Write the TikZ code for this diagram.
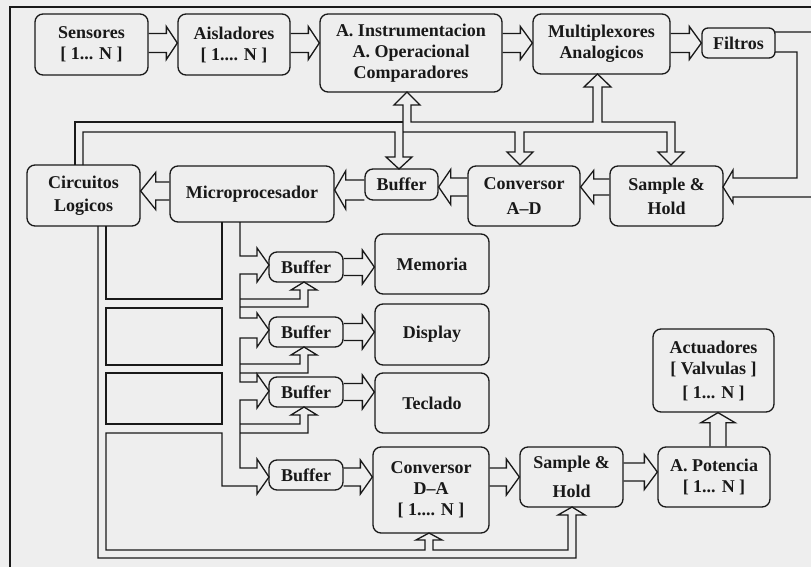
\documentclass[tikz,border=0pt]{standalone}
\usepackage{fontspec}
\setmainfont{Liberation Serif}
\usetikzlibrary{calc}
\definecolor{bg}{RGB}{238,238,238}
\definecolor{ink}{RGB}{25,25,25}
\tikzset{
 ln/.style={draw=ink, line width=1.3pt, line join=miter},
 box/.style={ln, rounded corners=8pt, inner sep=0pt, align=center,
   font=\fontsize{18}{21}\selectfont\bfseries, text=ink},
 wh/.style 2 args={minimum width=#1pt, minimum height=#2pt},
}
% hollow arrows: #1 start point, #2 tip point, #3 half shaft, #4 half head, #5 head length
\newcommand\hArrR[5]{\draw[ln] let \p1=#1,\p2=#2 in (\x1,\y2+#3pt) -- (\x2-#5pt,\y2+#3pt) -- (\x2-#5pt,\y2+#4pt) -- (\x2,\y2) -- (\x2-#5pt,\y2-#4pt) -- (\x2-#5pt,\y2-#3pt) -- (\x1,\y2-#3pt);}
\newcommand\hArrL[5]{\draw[ln] let \p1=#1,\p2=#2 in (\x1,\y2+#3pt) -- (\x2+#5pt,\y2+#3pt) -- (\x2+#5pt,\y2+#4pt) -- (\x2,\y2) -- (\x2+#5pt,\y2-#4pt) -- (\x2+#5pt,\y2-#3pt) -- (\x1,\y2-#3pt);}
\newcommand\hArrU[5]{\draw[ln] let \p1=#1,\p2=#2 in (\x2-#3pt,\y1) -- (\x2-#3pt,\y2-#5pt) -- (\x2-#4pt,\y2-#5pt) -- (\x2,\y2) -- (\x2+#4pt,\y2-#5pt) -- (\x2+#3pt,\y2-#5pt) -- (\x2+#3pt,\y1);}
\begin{document}
\begin{tikzpicture}[x=1pt,y=-1pt]
\useasboundingbox (0,0) rectangle (811,567);
\clip (0,0) rectangle (811,567);
\fill[bg] (0,0) rectangle (811,567);
\draw[ln] (10,580) -- (10,7) -- (820,7);

% row helper coordinates
\coordinate (rtop) at (0,43);
\coordinate (rmid1) at (0,191);
\coordinate (rmid2) at (0,190);
\coordinate (rmid3) at (0,187);
\coordinate (rlow1) at (0,477);
\coordinate (rlow2) at (0,472);
\coordinate (cact) at (718,0);

% top row
\node[box,wh={113}{61}] (sens) at (91.5,44.5) {Sensores\\{[} 1... N ]};
\node[box,wh={112}{61}] (ais) at (234,44.5) {Aisladores\\{[} 1.... N ]};
\node[box,wh={182}{78}] (ainstr) at (411,53) {A. Instrumentacion\\A. Operacional\\Comparadores};
\node[box,wh={137}{60}] (mux) at (601.5,44) {Multiplexores\\Analogicos};
\node[box,wh={73}{30},rounded corners=6pt] (filt) at (738.5,43) {Filtros};

% middle row
\node[box,wh={113}{61}] (circ) at (83.5,195.5) {Circuitos\\[2pt]Logicos};
\node[box,wh={164}{56}] (micro) at (252,194) {\raisebox{-7pt}{Microprocesador}};
\node[box,wh={73}{31}] (buf0) at (401.5,184.5) {Buffer};
\node[box,wh={112}{60}] (convad) at (524,196) {Conversor\\[4pt]A–D};
\node[box,wh={113}{60}] (sh1) at (666.5,196) {Sample \&\\[3pt]Hold};

% lower section
\node[box,wh={74}{30}] (buf1) at (306,267) {Buffer};
\node[box,wh={74}{30}] (buf2) at (306,332) {Buffer};
\node[box,wh={74}{30}] (buf3) at (306,392) {Buffer};
\node[box,wh={74}{30}] (buf4) at (306,475) {Buffer};
\node[box,wh={114}{60}] (mem) at (432,264) {\raisebox{-3pt}{Memoria}};
\node[box,wh={114}{61}] (disp) at (432,334.5) {\raisebox{-8pt}{Display}};
\node[box,wh={114}{60}] (tecl) at (432,403) {\raisebox{-3pt}{Teclado}};
\node[box,wh={116}{86}] (convda) at (431,490) {Conversor\\D–A\\{[} 1.... N ]};
\node[box,wh={103}{60}] (sh2) at (571.5,477) {Sample \&\\[8pt]Hold};
\node[box,wh={112}{60}] (apot) at (714,477) {A. Potencia\\{[} 1... N ]};
\node[box,wh={121}{83}] (act) at (713.5,370.5) {Actuadores\\{[} Valvulas ]\\[3pt]{[} 1... N ]};

% top row arrows
\hArrR{(sens.east)}{(ais.west |- rtop)}{9.5}{16.5}{11}
\hArrR{(ais.east)}{(ainstr.west |- rtop)}{9.5}{16.5}{11}
\hArrR{(ainstr.east)}{(mux.west |- rtop)}{9.5}{16.5}{12}
\hArrR{(mux.east)}{(filt.west |- rtop)}{9.5}{16.5}{12}

% middle row arrows
\hArrL{(micro.west)}{(circ.east |- rmid1)}{9}{18.5}{15}
\hArrL{(buf0.west)}{(micro.east |- rmid2)}{10}{19}{11}
\hArrL{(convad.west)}{(buf0.east |- rmid3)}{9}{17.5}{12}
\hArrL{(sh1.west)}{(convad.east |- rmid3)}{8}{16.5}{13}

% buffers to devices
\hArrR{(buf1.east)}{(mem.west |- buf1.east)}{8.5}{17}{12}
\hArrR{(buf2.east)}{(disp.west |- buf2.east)}{8.5}{17}{12}
\hArrR{(buf3.east)}{(tecl.west |- buf3.east)}{8.5}{17}{12}
\hArrR{(buf4.east)}{(convda.west |- rlow1)}{9}{17}{12}

% output chain
\hArrR{(convda.east)}{(sh2.west |- rlow1)}{9}{18}{13}
\hArrR{(sh2.east)}{(apot.west |- rlow2)}{9}{17.5}{13}
\hArrU{(apot.north -| cact)}{(act.south -| cact)}{8}{17}{10}

% filter output bus into Sample & Hold
\draw[ln] (775,32) -- (830,32) -- (830,197) -- (733,197) -- (733,203) -- (723,187)
  -- (733,170) -- (733,178) -- (797,178) -- (797,52) -- (775,52);

% upper control/data bus
\draw[ln] (75,165) -- (75,122) -- (403,122);
\draw[ln] (83,165) -- (83,132) -- (395,132) -- (395,157) -- (386,157) -- (399,169)
  -- (412,157) -- (403,157) -- (403,105) -- (394,105) -- (407,92) -- (420,105)
  -- (411,105) -- (411,122) -- (593,122) -- (593,87) -- (584,87) -- (597.5,74)
  -- (611,87) -- (602,87) -- (602,122) -- (675,122) -- (675,152) -- (684,152)
  -- (671,165) -- (658,152) -- (667,152) -- (667,132) -- (524,132) -- (524,152)
  -- (533,152) -- (520,165) -- (507,152) -- (515,152) -- (515,132) -- (403,132);

% lower buses
\draw[ln] (106,226) -- (106,299) -- (222,299) -- (222,222);
\draw[ln] (106,308) rectangle (222,365);
\draw[ln] (106,373) rectangle (222,424);
\draw[ln] (240,222) -- (240,256) -- (257,256) -- (257,248) -- (269,265) -- (257,282)
  -- (257,274) -- (240,274) -- (240,318) -- (257,318) -- (257,313) -- (269,330)
  -- (257,347) -- (257,338) -- (240,338) -- (240,382) -- (257,382) -- (257,374)
  -- (269,391) -- (257,408) -- (257,400) -- (240,400) -- (240,468) -- (257,468)
  -- (257,459) -- (269,477) -- (257,494) -- (257,486) -- (222,486) -- (222,433)
  -- (106,433) -- (106,550) -- (425,550) -- (425,540) -- (416,540) -- (429,533)
  -- (442,540) -- (433,540) -- (433,550) -- (568,550) -- (568,515) -- (558,515)
  -- (572,507) -- (585,515) -- (576,515) -- (576,558) -- (98,558) -- (98,226);
% enable arrows into the buffers
\draw[ln] (240,299) -- (300,299) -- (300,290) -- (291,290) -- (304,282) -- (317,290)
  -- (308,290) -- (308,307) -- (240,307);
\draw[ln] (240,364) -- (300,364) -- (300,355) -- (291,355) -- (304,347) -- (317,355)
  -- (308,355) -- (308,373) -- (240,373);
\draw[ln] (240,424) -- (300,424) -- (300,415) -- (291,415) -- (304,407) -- (317,415)
  -- (308,415) -- (308,433) -- (240,433);
\end{tikzpicture}
\end{document}
